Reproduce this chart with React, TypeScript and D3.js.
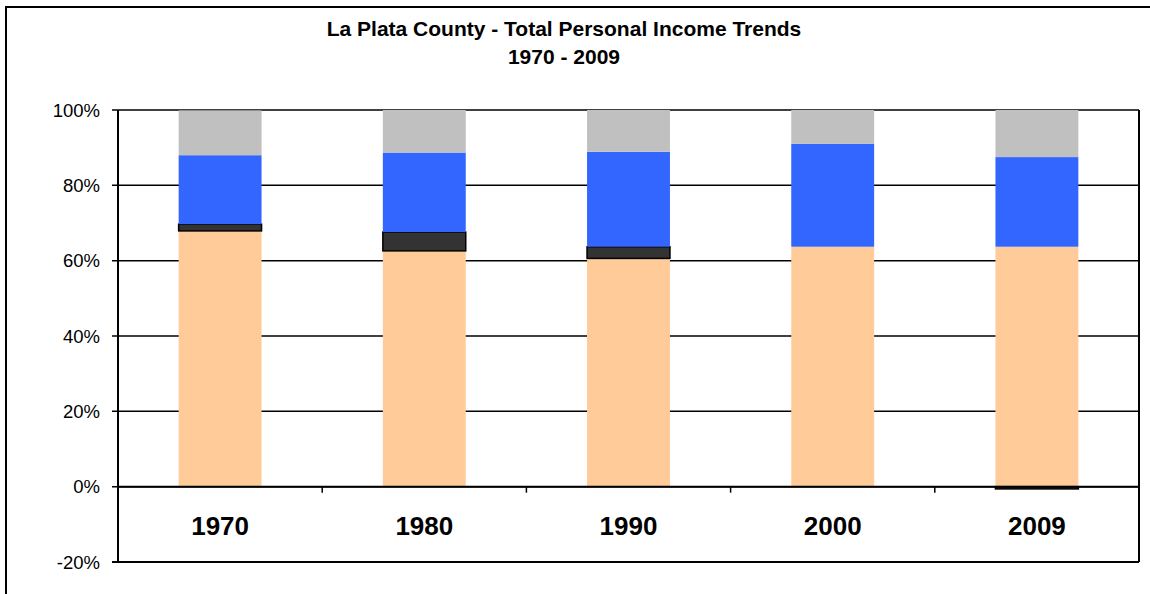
import React from "react";
import * as d3 from "d3";

// La Plata County total personal income, share by component (%)
const years = ["1970", "1980", "1990", "2000", "2009"];
const earnings = [67.9, 62.6, 60.6, 63.7, 63.7];
const residence = [1.8, 5.0, 3.1, 0, -0.6];
const dividends = [18.3, 21.1, 25.2, 27.3, 23.8];
const transfers = [11.9, 11.3, 11.1, 9.0, 12.5];
const yTicks = [-20, 0, 20, 40, 60, 80, 100];

const seriesKeys = ["earnings", "residence", "dividends", "transfers"];
const colors: Record<string, string> = {
  earnings: "#FFCC99",
  residence: "#333333",
  dividends: "#3366FF",
  transfers: "#C0C0C0",
};

const width = 1150,
  height = 594;
const plot = { left: 118, right: 1139, top: 110, bottom: 562 };
const font = "Arial, 'Liberation Sans', sans-serif";

export default function App() {
  const rows = years.map((y, i) => ({
    year: y,
    earnings: earnings[i],
    residence: residence[i],
    dividends: dividends[i],
    transfers: transfers[i],
  }));

  const x = d3
    .scaleBand()
    .domain(years)
    .range([plot.left, plot.right])
    .paddingInner(0.594)
    .paddingOuter(0.297);

  const y = d3.scaleLinear().domain([-20, 100]).range([plot.bottom, plot.top]);

  const stacked = d3
    .stack<any>()
    .keys(seriesKeys)
    .offset(d3.stackOffsetDiverging)(rows);

  const step = x.step();
  const catTicks = d3.range(1, years.length).map((i) => plot.left + i * step);

  return (
    <svg
      width={width}
      height={height}
      style={{ position: "absolute", left: 0, top: 0, background: "#fff" }}
    >
      {/* chart frame */}
      <rect x={6} y={7} width={1300} height={800} fill="#fff" stroke="#000" strokeWidth={2} />

      {/* title */}
      <text x={564} y={36} textAnchor="middle" fontFamily={font} fontWeight="bold" fontSize={21}>
        La Plata County - Total Personal Income Trends
      </text>
      <text x={564} y={64} textAnchor="middle" fontFamily={font} fontWeight="bold" fontSize={21}>
        1970 - 2009
      </text>

      {/* gridlines */}
      {yTicks.map((t) => (
        <line
          key={"g" + t}
          x1={plot.left - 6}
          x2={plot.right}
          y1={y(t)}
          y2={y(t)}
          stroke="#000"
          strokeWidth={1.5}
        />
      ))}
      {yTicks.map((t) => (
        <text
          key={"l" + t}
          x={100}
          y={y(t)}
          dy="0.36em"
          textAnchor="end"
          fontFamily={font}
          fontSize={18.5}
        >
          {t + "%"}
        </text>
      ))}

      {/* bars */}
      {stacked.map((s) => (
        <g key={s.key}>
          {s.map((d, i) => {
            const h = Math.abs(y(d[0]) - y(d[1]));
            if (h < 0.01) return null;
            const dark = s.key === "residence";
            return (
              <rect
                key={i}
                x={x(years[i])}
                y={Math.min(y(d[0]), y(d[1]))}
                width={x.bandwidth()}
                height={h}
                fill={colors[s.key]}
                stroke={dark ? "#000" : "none"}
                strokeWidth={dark ? 1.5 : 0}
              />
            );
          })}
        </g>
      ))}

      {/* axes */}
      <line x1={plot.left} x2={plot.left} y1={plot.top} y2={plot.bottom} stroke="#000" strokeWidth={2} />
      <line x1={plot.right} x2={plot.right} y1={plot.top} y2={plot.bottom} stroke="#000" strokeWidth={2} />
      <line x1={plot.left - 6} x2={plot.right} y1={plot.bottom} y2={plot.bottom} stroke="#000" strokeWidth={2} />
      <line x1={plot.left} x2={plot.right} y1={y(0)} y2={y(0)} stroke="#000" strokeWidth={2} />
      {catTicks.map((cx) => (
        <line key={cx} x1={cx} x2={cx} y1={y(0)} y2={y(0) + 6} stroke="#000" strokeWidth={1.5} />
      ))}
      {years.map((yr) => (
        <text
          key={yr}
          x={(x(yr) as number) + x.bandwidth() / 2}
          y={535}
          textAnchor="middle"
          fontFamily={font}
          fontWeight="bold"
          fontSize={26}
        >
          {yr}
        </text>
      ))}
    </svg>
  );
}
